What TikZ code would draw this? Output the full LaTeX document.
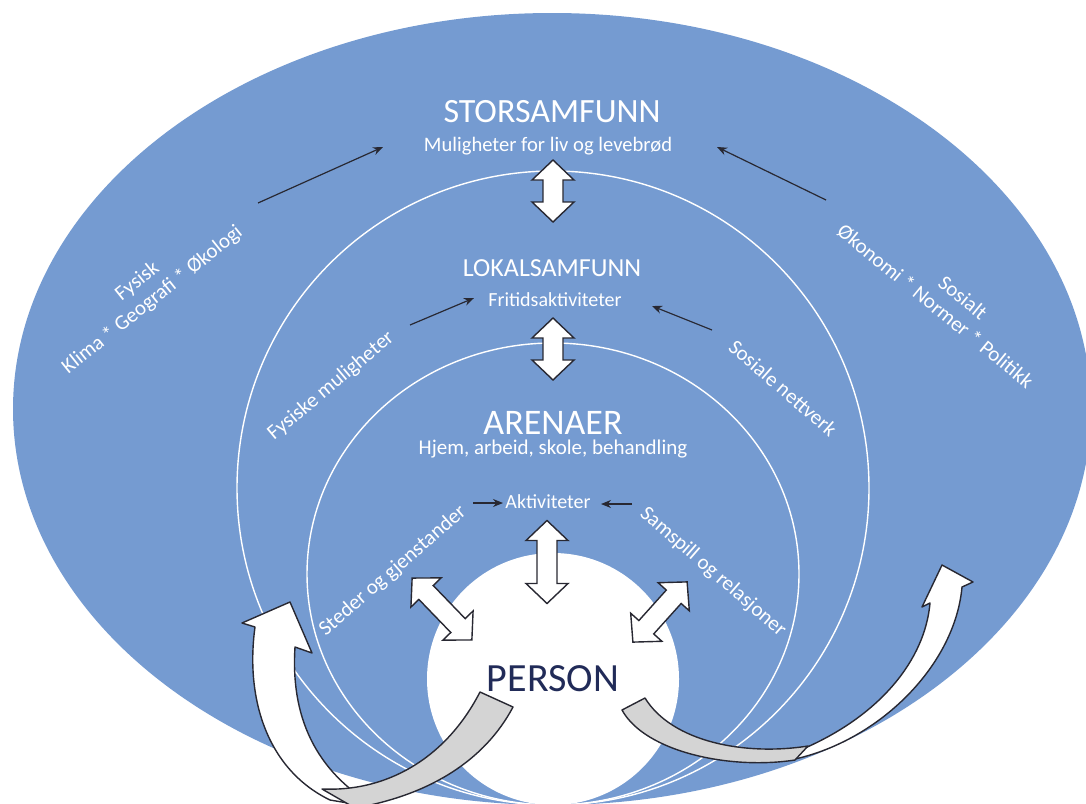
\documentclass[tikz,border=0pt]{standalone}
\usepackage{fontspec}
\setmainfont{Carlito}
\usetikzlibrary{arrows.meta}
\definecolor{bluefill}{RGB}{117,155,209}
\definecolor{navy}{RGB}{33,43,88}
\definecolor{outl}{RGB}{40,40,50}
\definecolor{tailgray}{RGB}{212,212,212}
\tikzset{
  lbl/.style={text=white,inner sep=0pt,font=\fontsize{10.5}{12}\selectfont},
  thinarr/.style={-{Stealth[length=5pt,width=4pt]},line width=0.6pt,draw=outl},
  ring/.style={draw=white,line width=0.7pt},
  blockarr/.style={fill=white,draw=outl,line width=0.7pt,line join=miter},
  curvw/.style={fill=white,draw=outl,line width=0.7pt,line join=round},
  curvg/.style={fill=tailgray,draw=outl,line width=0.7pt,line join=round},
  dbl/.pic={
    \path[blockarr] ({-#1/2},0) -- ({-#1/2+20},-21) -- ({-#1/2+20},-10) -- ({#1/2-20},-10)
      -- ({#1/2-20},-21) -- ({#1/2},0) -- ({#1/2-20},21) -- ({#1/2-20},10)
      -- ({-#1/2+20},10) -- ({-#1/2+20},21) -- cycle;
  }
}
\begin{document}
\begin{tikzpicture}[x=0.5pt,y=-0.5pt]
\useasboundingbox (0,0) rectangle (1086,803);
\clip (0,0) rectangle (1086,803);
% outer blue ellipse
\fill[bluefill] (552,409) ellipse [x radius=539, y radius=396];
% rings
\begin{scope}
  \clip (552,409) ellipse [x radius=539, y radius=396];
  \draw[ring] (553,488) ellipse [x radius=316, y radius=317];
  \draw[ring] (553,574) ellipse [x radius=246, y radius=231];
\end{scope}
% person
\node[circle,fill=white,minimum size=126pt,inner sep=0pt,text=navy,
      font=\fontsize{20}{24}\selectfont] (person) at (553,679) {PERSON};
% texts
\node[lbl,font=\fontsize{17}{20}\selectfont] (stor) at (552,112) {STORSAMFUNN};
\node[lbl,font=\fontsize{10.3}{12}\selectfont] (mul) at (548,146) {Muligheter for liv og levebrød};
\node[lbl,font=\fontsize{13}{15}\selectfont] (lok) at (552,268) {LOKALSAMFUNN};
\node[lbl,font=\fontsize{10}{12}\selectfont] (frit) at (555,300) {Fritidsaktiviteter};
\node[lbl,font=\fontsize{18}{21}\selectfont] (aren) at (553,423) {ARENAER};
\node[lbl] (hjem) at (553,449) {Hjem, arbeid, skole, behandling};
\node[lbl,font=\fontsize{10}{12}\selectfont] (akt) at (548,502) {Aktiviteter};
\node[lbl,align=center,rotate=38.7] (fys) at (145,291) {Fysisk\\Klima * Geografi * Økologi};
\node[lbl,align=center,rotate=-39.3] (sos) at (943,297) {\hspace*{1.5em}Sosialt\\Økonomi * Normer * Politikk};
\node[lbl,rotate=40] (fysm) at (331,386) {Fysiske muligheter};
\node[lbl,rotate=-41] (sosn) at (783,388) {Sosiale nettverk};
\node[lbl,rotate=41] (sted) at (393,571) {Steder og gjenstander};
\node[lbl,rotate=-41] (sams) at (713,572) {Samspill og relasjoner};
% thin arrows
\coordinate (a1s) at (258,203); \coordinate (a1e) at (383,147);
\coordinate (a2s) at (826,200); \coordinate (a2e) at (717,147);
\coordinate (a3s) at (410,325); \coordinate (a3e) at (474,298);
\coordinate (a4s) at (712,330); \coordinate (a4e) at (652,306);
\coordinate (a5s) at (473,503); \coordinate (a5e) at (503,503);
\coordinate (a6s) at (632,504); \coordinate (a6e) at (601,504);
\draw[thinarr] (a1s) -- (a1e);
\draw[thinarr] (a2s) -- (a2e);
\draw[thinarr] (a3s) -- (a3e);
\draw[thinarr] (a4s) -- (a4e);
\draw[thinarr] (a5s) -- (a5e);
\draw[thinarr] (a6s) -- (a6e);
% block double arrows
\pic[rotate=90] at (553,191) {dbl=62};
\pic[rotate=90] at (553,349) {dbl=62};
\pic[rotate=90] at (547,562) {dbl=83};
\pic[rotate=-46] at (442,609) {dbl=86};
\pic[rotate=48] at (660,612) {dbl=81};
% curved arrow left
\path[curvw] (295,647) -- (312,653) -- (290,602) -- (242,623) -- (255,627)
  .. controls (245,700) and (268,770) .. (330,800)
  -- (378,808)
  .. controls (322,776) and (290,725) .. (295,647) -- cycle;
\path[curvg] (480,692) .. controls (445,760) and (385,792) .. (322,789)
  -- (355,808) .. controls (430,795) and (485,760) .. (513,707) -- cycle;
% curved arrow right
\path[curvw] (930,603) -- (922,607) -- (942,565) -- (973,582) -- (962,587)
  .. controls (955,665) and (880,740) .. (795,759)
  -- (805,748) .. controls (880,715) and (925,660) .. (930,603) -- cycle;
\path[curvg] (645,698) .. controls (672,742) and (745,756) .. (808,746)
  -- (795,760) .. controls (730,770) and (645,752) .. (622,710) -- cycle;
\end{tikzpicture}
\end{document}
